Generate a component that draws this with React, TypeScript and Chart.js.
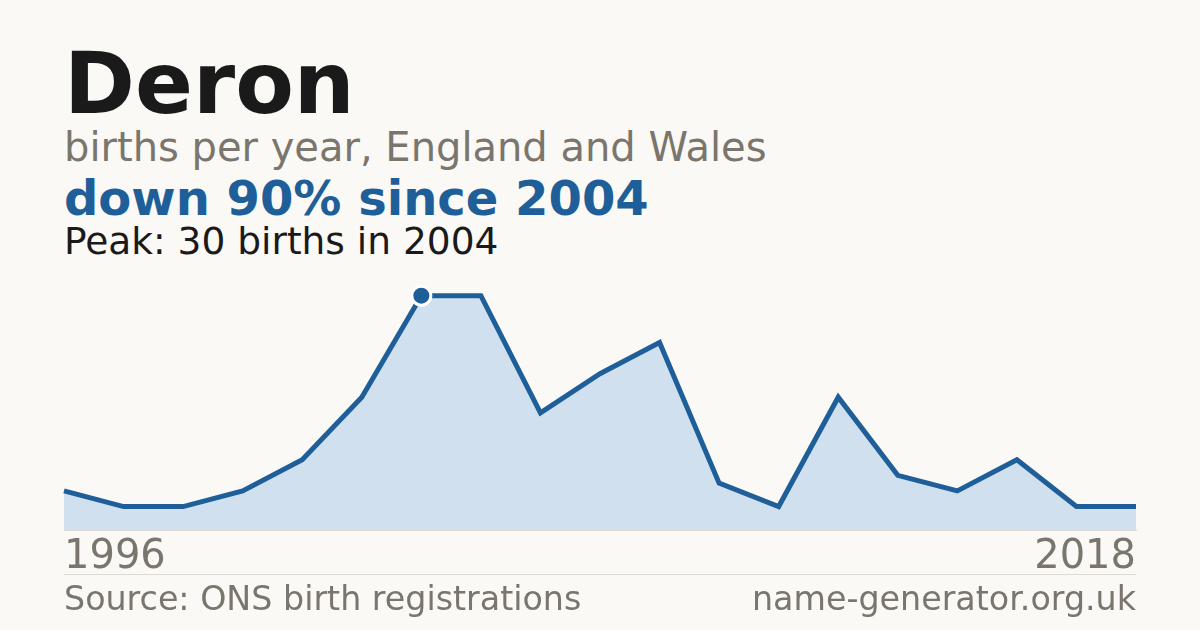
import { useRef, useEffect } from "react";
import { Chart, registerables, type ChartOptions, type ChartData } from "chart.js";

Chart.register(...registerables);

const years = [1996, 1997, 1999, 2000, 2001, 2003, 2004, 2005, 2006, 2007, 2008, 2009, 2010, 2012, 2013, 2014, 2015, 2017, 2018];
const births = [5, 3, 3, 5, 9, 17, 30, 30, 15, 20, 24, 6, 3, 17, 7, 5, 9, 3, 3];
const peakYear = 2004;

const BLUE = "#1f5f99";
const GRAY = "#7a756d";
const FONT = '"DejaVu Sans", sans-serif';

const peakIdx = years.indexOf(peakYear);

const data: ChartData<"line"> = {
  labels: years.map(String),
  datasets: [
    {
      data: births,
      borderColor: BLUE,
      borderWidth: 5,
      backgroundColor: "#d0e0ef",
      fill: "origin",
      tension: 0,
      clip: false,
      pointRadius: births.map((_, i) => (i === peakIdx ? 9.5 : 0)),
      pointHoverRadius: 0,
      pointBackgroundColor: BLUE,
      pointBorderColor: "#ffffff",
      pointBorderWidth: 3,
    },
  ],
};

// the x tick padding (4) also pads the plot on both sides, so the canvas is 4px wider each way
const options: ChartOptions<"line"> = {
  responsive: false,
  animation: false,
  layout: { padding: 0, autoPadding: false },
  plugins: { legend: { display: false }, tooltip: { enabled: false } },
  scales: {
    x: {
      grid: { display: false, drawTicks: false },
      border: { display: true, color: "#dcd8cf", width: 1 },
      ticks: {
        autoSkip: false,
        maxRotation: 0,
        align: "inner",
        padding: 4,
        color: GRAY,
        font: { family: FONT, size: 40 },
        callback: (_v, i) => (i === 0 || i === years.length - 1 ? String(years[i]) : ""),
      },
    },
    y: { display: false, min: 0, max: 32 },
  },
};

export default function App() {
  const canvasRef = useRef<HTMLCanvasElement>(null);

  useEffect(() => {
    if (!canvasRef.current) return;
    const chart = new Chart(canvasRef.current, { type: "line", data, options });
    return () => chart.destroy();
  }, []);

  const text = (top: number, size: number, color: string, weight = 400): React.CSSProperties => ({
    position: "absolute",
    top,
    left: 64,
    fontSize: size,
    lineHeight: 1,
    color,
    fontWeight: weight,
    whiteSpace: "nowrap",
  });

  return (
    <div style={{ position: "fixed", left: 0, top: 0, width: 1200, height: 630, background: "#faf9f5", fontFamily: FONT, overflow: "hidden" }}>
      <div style={text(41, 85.5, "#1a1a1a", 700)}>Deron</div>
      <div style={text(127, 40, GRAY)}>births per year, England and Wales</div>
      <div style={text(174, 48, BLUE, 700)}>down 90% since 2004</div>
      <div style={text(223, 37.5, "#1a1a1a")}>Peak: 30 births in 2004</div>
      <div style={{ position: "absolute", left: 60, top: 280, width: 1080, height: 306 }}>
        <canvas ref={canvasRef} width={1080} height={306} role="img" aria-label="Deron births per year" />
      </div>
      <div style={{ position: "absolute", left: 64, top: 574, width: 1072, height: 1, background: "#dedad2" }} />
      <div style={text(582, 33.3, GRAY)}>Source: ONS birth registrations</div>
      <div style={{ ...text(582, 33.3, GRAY), left: "auto", right: 64 }}>name-generator.org.uk</div>
    </div>
  );
}
